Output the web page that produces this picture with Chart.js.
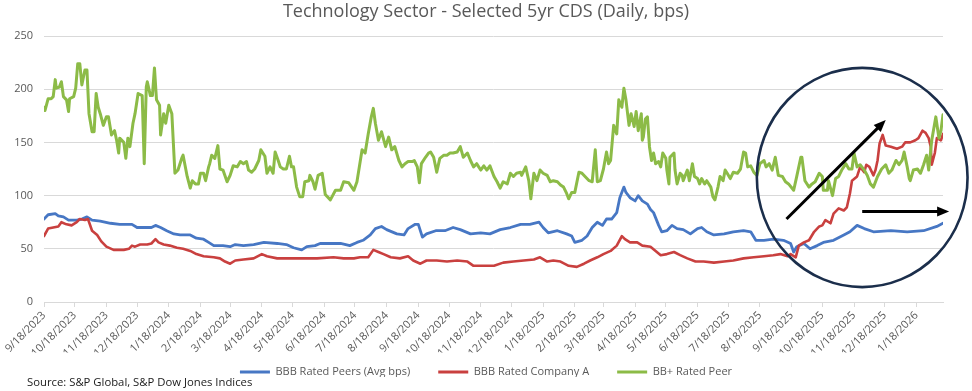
<!DOCTYPE html>
<html>
<head>
<meta charset="utf-8">
<script src="https://cdn.jsdelivr.net/npm/chart.js@4.4.1/dist/chart.umd.min.js"></script>
<style>
  html, body { margin: 0; padding: 0; background: #fff; }
  #wrap { position: relative; width: 972px; height: 391px; }
  #source { position: absolute; left: 27px; top: 374px; font: 11.3px 'Open Sans', sans-serif; color: #1a1a1a; white-space: nowrap; }
</style>
</head>
<body>
<div id="wrap">
  <canvas id="cdsChart" width="972" height="391"></canvas>
  <div id="source">Source: S&amp;P Global, S&amp;P Dow Jones Indices</div>
</div>
<script>
// x values are days since 9/18/2023 (first observation)
const START = Date.UTC(2023, 8, 18);

const tickLabels = ['9/18/2023', '10/18/2023', '11/18/2023', '12/18/2023', '1/18/2024', '2/18/2024',
  '3/18/2024', '4/18/2024', '5/18/2024', '6/18/2024', '7/18/2024', '8/18/2024', '9/18/2024',
  '10/18/2024', '11/18/2024', '12/18/2024', '1/18/2025', '2/18/2025', '3/18/2025', '4/18/2025',
  '5/18/2025', '6/18/2025', '7/18/2025', '8/18/2025', '9/18/2025', '10/18/2025', '11/18/2025',
  '12/18/2025', '1/18/2026'];

const seriesNames = ['BBB Rated Peers (Avg bps)', 'BBB Rated Company A', 'BB+ Rated Peer'];
const seriesColors = ['#4777c4', '#c9403f', '#8cbb47'];

const peerDays = [0, 4, 11, 14, 19, 24, 32, 37, 42, 47, 55, 65, 74, 79, 86, 91, 97, 105, 109, 114, 120, 127, 133, 143,
  149, 156, 161, 166, 175, 182, 187, 195, 205, 215, 228, 237, 244, 252, 257, 265, 270, 280, 290, 299, 306, 312, 319,
  324, 330, 335, 345, 352, 356, 363, 366, 370, 374, 383, 392, 400, 407, 417, 427, 436, 446, 456, 466, 475, 484, 488,
  493, 502, 511, 516, 519, 526, 531, 536, 541, 546, 550, 555, 560, 563, 567, 569, 573, 578, 581, 585, 590, 593, 596,
  601, 604, 609, 614, 619, 625, 632, 639, 643, 648, 655, 665, 674, 684, 691, 696, 704, 713, 723, 730, 733, 736, 743,
  749, 756, 762, 772, 782, 788, 795, 802, 811, 828, 844, 860, 873, 879];
const peerBps = [78, 82, 83, 81, 80, 77, 77, 78, 80, 77, 76, 74, 73, 73, 73, 70, 70, 70, 72, 70, 67, 64, 63, 63,
  60, 59, 56, 53, 53, 52, 54, 53, 54, 56, 55, 54, 51, 49, 52, 53, 55, 55, 55, 53, 56, 58, 63,
  69, 71, 68, 64, 63, 69, 73, 73, 61, 64, 67, 67, 70, 68, 64, 65, 64, 68, 70, 73, 73, 75, 70,
  65, 67, 64, 62, 56, 58, 62, 70, 75, 72, 78, 78, 84, 98, 108, 103, 98, 95, 100, 95, 92, 87, 84,
  72, 66, 67, 72, 69, 68, 64, 69, 70, 66, 63, 64, 66, 67, 66, 58, 58, 59, 58, 55, 47, 52, 55,
  50, 53, 56, 58, 63, 66, 72, 69, 66, 67, 66, 67, 71, 74];

const companyDays = [0, 4, 9, 14, 17, 22, 27, 32, 35, 40, 43, 47, 52, 56, 61, 68, 78, 83, 86, 89, 94, 101, 105, 109,
  112, 117, 123, 130, 136, 143, 149, 156, 166, 172, 177, 182, 187, 195, 205, 213, 218, 228, 241, 254, 267, 283, 293,
  303, 309, 317, 322, 327, 332, 339, 348, 356, 361, 368, 374, 384, 394, 404, 414, 420, 430, 440, 449, 459, 469, 479,
  485, 492, 498, 505, 513, 521, 528, 534, 541, 547, 554, 560, 565, 568, 573, 580, 585, 593, 603, 609, 616, 622, 629,
  637, 645, 655, 665, 674, 684, 694, 704, 713, 720, 727, 730, 735, 738, 743, 748, 753, 758, 761, 764, 769, 772, 777,
  782, 785, 788, 790, 795, 798, 802, 804, 807, 811, 813, 815, 817, 820, 823, 828, 834, 839, 842, 847, 852, 855, 859,
  862, 865, 867, 868, 871, 873, 877, 879];
const companyBps = [62, 69, 70, 71, 75, 73, 72, 75, 78, 77, 78, 67, 63, 57, 52, 49, 49, 50, 53, 52, 54, 54, 55, 59,
  56, 54, 53, 51, 50, 48, 45, 43, 42, 41, 38, 36, 39, 40, 41, 45, 43, 41, 41, 41, 41, 42, 41,
  41, 42, 42, 49, 47, 45, 42, 41, 43, 39, 36, 39, 39, 38, 39, 38, 34, 34, 34, 37, 38, 39, 40,
  42, 38, 39, 38, 34, 33, 36, 39, 42, 45, 48, 53, 62, 59, 56, 56, 53, 52, 44, 45, 47, 44, 41,
  38, 38, 37, 38, 39, 41, 42, 43, 44, 45, 43, 45, 42, 53, 56, 58, 66, 71, 72, 77, 74, 83, 88,
  86, 89, 102, 114, 118, 127, 122, 129, 127, 119, 124, 133, 149, 157, 147, 146, 144, 146, 150, 150, 152, 154, 161,
  159, 154, 146, 129, 140, 154, 152, 158];

const bbDays = [0, 1, 4, 7, 9, 11, 12, 15, 17, 19, 22, 24, 25, 29, 31, 33, 35, 37, 40, 42, 44, 47, 49, 51, 53, 55,
  58, 61, 63, 66, 69, 71, 73, 74, 78, 80, 82, 84, 87, 89, 92, 96, 98, 100, 101, 104, 106, 108, 110, 113, 114, 117,
  119, 122, 125, 128, 131, 135, 136, 140, 143, 145, 148, 151, 153, 156, 158, 161, 162, 164, 167, 170, 172, 175, 179,
  182, 185, 189, 192, 195, 198, 200, 203, 206, 210, 212, 216, 218, 221, 224, 226, 229, 231, 234, 237, 240, 242, 244,
  247, 250, 253, 255, 259, 260, 263, 265, 268, 272, 275, 280, 285, 290, 293, 298, 303, 306, 311, 314, 317, 320, 322,
  324, 327, 330, 334, 337, 340, 343, 347, 350, 353, 356, 360, 362, 365, 367, 369, 373, 376, 378, 381, 384, 387, 391,
  394, 397, 400, 404, 407, 410, 414, 417, 420, 423, 427, 430, 433, 436, 440, 443, 446, 449, 453, 456, 459, 462, 466,
  467, 471, 474, 476, 479, 482, 485, 488, 492, 495, 498, 502, 505, 508, 511, 513, 516, 519, 523, 526, 529, 533, 536,
  539, 541, 544, 547, 550, 552, 554, 557, 560, 562, 565, 567, 569, 572, 574, 577, 579, 581, 584, 585, 586, 588, 590,
  592, 594, 596, 598, 601, 603, 605, 608, 609, 611, 612, 616, 617, 619, 622, 624, 625, 629, 631, 634, 636, 639, 641,
  643, 646, 648, 652, 654, 656, 659, 661, 664, 666, 668, 671, 674, 678, 681, 684, 686, 688, 691, 694, 697, 700, 704,
  706, 709, 712, 715, 718, 722, 725, 728, 733, 736, 740, 741, 744, 748, 751, 754, 758, 761, 762, 766, 767, 771, 774,
  777, 780, 784, 787, 790, 792, 795, 798, 802, 805, 808, 811, 815, 819, 823, 826, 829, 833, 836, 839, 841, 844, 846,
  847, 850, 854, 857, 860, 863, 865, 868, 872, 875, 877, 879];
const bbBps = [183, 180, 191, 191, 193, 209, 201, 202, 207, 193, 190, 179, 191, 193, 201, 224, 224, 204, 218, 218, 177, 160, 160, 196, 183, 177,
  166, 174, 174, 157, 161, 152, 140, 154, 150, 135, 154, 146, 168, 177, 196, 194, 130, 202, 207, 194, 194, 220, 190, 185, 157, 177,
  168, 185, 177, 121, 124, 136, 138, 118, 107, 114, 111, 111, 121, 121, 114, 127, 130, 138, 135, 147, 125, 124, 113,
  119, 128, 127, 132, 130, 132, 124, 122, 125, 133, 143, 137, 121, 127, 121, 141, 133, 127, 125, 125, 137, 127, 127,
  108, 99, 99, 113, 114, 119, 113, 106, 119, 121, 101, 96, 105, 105, 113, 112, 105, 113, 143, 140, 158, 174, 182,
  168, 152, 160, 146, 155, 143, 146, 133, 127, 130, 132, 132, 133, 127, 112, 130, 136, 140, 141, 136, 122, 135, 138,
  138, 140, 140, 141, 146, 136, 140, 133, 127, 130, 124, 128, 124, 128, 118, 113, 107, 113, 111, 121, 118, 121, 122,
  119, 127, 114, 97, 121, 114, 124, 121, 119, 113, 114, 113, 110, 108, 102, 97, 103, 103, 122, 121, 118, 114, 113,
  143, 113, 114, 125, 141, 130, 133, 166, 158, 190, 183, 201, 190, 166, 177, 165, 179, 161, 177, 152, 155, 172, 174,
  146, 133, 140, 130, 132, 127, 140, 135, 124, 111, 136, 140, 124, 111, 121, 119, 114, 124, 114, 130, 118, 116, 111,
  116, 111, 114, 108, 99, 96, 108, 118, 114, 124, 121, 116, 122, 121, 125, 141, 140, 127, 128, 122, 119, 130, 133,
  127, 130, 124, 136, 119, 118, 113, 111, 105, 118, 136, 136, 114, 108, 111, 113, 121, 118, 105, 105, 114, 100, 116,
  118, 124, 130, 125, 125, 140, 127, 129, 124, 119, 111, 108, 118, 125, 129, 121, 124, 133, 129, 133, 141, 127, 116,
  114, 124, 125, 121, 129, 138, 124, 152, 174, 154, 161, 176];

// hand-drawn highlight on the chart, in data units (days, bps)
const highlightEllipse = { day: 800, bps: 117, rxDays: 103, ryBps: 103 };
const highlightArrows = [
  { from: [726, 78], to: [823, 171] },
  { from: [800, 85], to: [885, 85] }
];

const dayOf = label => {
  const [m, d, y] = label.split('/').map(Number);
  return Math.round((Date.UTC(y, m - 1, d) - START) / 86400000);
};
const tickDays = tickLabels.map(dayOf);

const toPoints = (days, vals) => days.map((d, i) => ({ x: d, y: vals[i] }));

const highlightPlugin = {
  id: 'highlight',
  afterDatasetsDraw(chart) {
    const { ctx, scales: { x, y } } = chart;
    ctx.save();

    const cx = x.getPixelForValue(highlightEllipse.day);
    const cy = y.getPixelForValue(highlightEllipse.bps);
    const rx = x.getPixelForValue(highlightEllipse.day + highlightEllipse.rxDays) - cx;
    const ry = cy - y.getPixelForValue(highlightEllipse.bps + highlightEllipse.ryBps);
    ctx.beginPath();
    ctx.ellipse(cx, cy, rx, ry, 0, 0, Math.PI * 2);
    ctx.strokeStyle = '#1b2e4b';
    ctx.lineWidth = 2.6;
    ctx.stroke();

    highlightArrows.forEach(a => {
      const x1 = x.getPixelForValue(a.from[0]), y1 = y.getPixelForValue(a.from[1]);
      const x2 = x.getPixelForValue(a.to[0]), y2 = y.getPixelForValue(a.to[1]);
      const ang = Math.atan2(y2 - y1, x2 - x1);
      const head = 12, half = 5;
      ctx.beginPath();
      ctx.moveTo(x1, y1);
      ctx.lineTo(x2 - Math.cos(ang) * head * 0.8, y2 - Math.sin(ang) * head * 0.8);
      ctx.strokeStyle = '#000';
      ctx.lineWidth = 3;
      ctx.stroke();
      ctx.beginPath();
      ctx.moveTo(x2, y2);
      ctx.lineTo(x2 - Math.cos(ang) * head - Math.sin(ang) * half, y2 - Math.sin(ang) * head + Math.cos(ang) * half);
      ctx.lineTo(x2 - Math.cos(ang) * head + Math.sin(ang) * half, y2 - Math.sin(ang) * head - Math.cos(ang) * half);
      ctx.closePath();
      ctx.fillStyle = '#000';
      ctx.fill();
    });
    ctx.restore();
  }
};

// legend row sits closer to the date labels than Chart.js puts it by default
const legendLift = {
  id: 'legendLift',
  afterLayout(chart) {
    chart.legend.top -= 14;
    chart.legend.bottom -= 14;
  }
};

const textColor = '#595959';
const fontFamily = "'Open Sans', sans-serif";

new Chart(document.getElementById('cdsChart'), {
  type: 'line',
  data: {
    datasets: [
      { label: seriesNames[0], data: toPoints(peerDays, peerBps), borderColor: seriesColors[0], backgroundColor: seriesColors[0], borderWidth: 2.8, order: 3 },
      { label: seriesNames[1], data: toPoints(companyDays, companyBps), borderColor: seriesColors[1], backgroundColor: seriesColors[1], borderWidth: 2.6, order: 2 },
      { label: seriesNames[2], data: toPoints(bbDays, bbBps), borderColor: seriesColors[2], backgroundColor: seriesColors[2], borderWidth: 3, order: 1 }
    ]
  },
  options: {
    responsive: false,
    animation: false,
    elements: {
      point: { radius: 0 },
      line: { tension: 0, borderJoinStyle: 'round', borderCapStyle: 'round' }
    },
    layout: { padding: { left: 0, right: 0, top: 0, bottom: 0 } },
    plugins: {
      title: {
        display: true,
        text: 'Technology Sector - Selected 5yr CDS (Daily, bps)',
        color: textColor,
        font: { family: fontFamily, size: 18, weight: 'normal' },
        padding: { top: 1, bottom: 13.4 }
      },
      legend: {
        position: 'bottom',
        maxHeight: 38.5,
        labels: {
          boxWidth: 30,
          boxHeight: 3,
          padding: 28,
          color: textColor,
          font: { family: fontFamily, size: 11 },
          generateLabels: chart => chart.data.datasets.map((ds, i) => ({
            text: ds.label,
            fillStyle: ds.borderColor,
            strokeStyle: ds.borderColor,
            lineWidth: 0,
            fontColor: textColor,
            hidden: false,
            datasetIndex: i
          }))
        }
      },
      tooltip: { enabled: false }
    },
    scales: {
      x: {
        type: 'linear',
        min: 0,
        max: 879,
        afterBuildTicks: axis => { axis.ticks = tickDays.map(v => ({ value: v })); },
        afterFit: axis => { axis.height = 50.5; },
        ticks: {
          autoSkip: false,
          minRotation: 45,
          maxRotation: 45,
          padding: 2,
          color: textColor,
          font: { family: fontFamily, size: 11 },
          callback: (v, i) => tickLabels[i]
        },
        grid: { drawOnChartArea: false, drawTicks: true, tickLength: 5, color: '#d9d9d9' },
        border: { color: '#d9d9d9' }
      },
      y: {
        min: 0,
        max: 250,
        afterFit: axis => { axis.width = 44; },
        ticks: {
          stepSize: 50,
          padding: 11,
          color: textColor,
          font: { family: fontFamily, size: 11 }
        },
        grid: { color: '#d9d9d9', drawTicks: false },
        border: { display: false }
      },
      // empty right-hand gutter, keeps the plot ending where the original does
      gutter: {
        position: 'right',
        afterFit: axis => { axis.width = 29; },
        ticks: { display: false },
        grid: { display: false },
        border: { display: false }
      }
    }
  },
  plugins: [highlightPlugin, legendLift]
});
</script>
</body>
</html>
